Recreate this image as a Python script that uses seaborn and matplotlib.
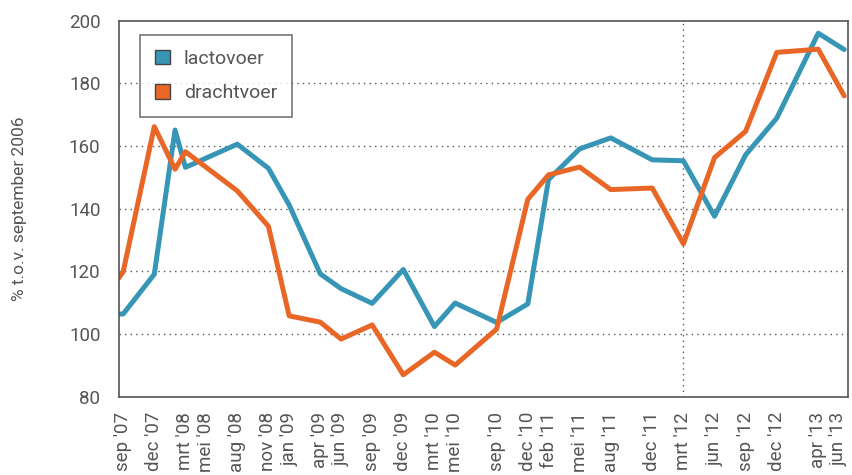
import numpy as np
import pandas as pd
import matplotlib
matplotlib.use("Agg")
import matplotlib.pyplot as plt
import seaborn as sns
from matplotlib.patches import Patch

# months since sep '07
maand = [-0.45, 0, 3, 5, 6, 11, 14, 16, 19, 21, 24, 27, 30, 32, 36, 39, 41, 44, 47, 51, 54, 57, 60, 63, 67, 69.5]
lactovoer = [106.4, 106.4, 119.1, 165.1, 153.2, 160.6, 152.9, 141.2, 119.2, 114.5, 109.8, 120.6, 102.4, 109.9,
             103.7, 109.6, 149.3, 159.1, 162.6, 155.6, 155.3, 137.6, 157.2, 168.9, 196.0, 190.8]
drachtvoer = [117.8, 119.9, 166.2, 152.6, 158.2, 145.7, 134.4, 105.8, 103.8, 98.4, 102.9, 87.0, 94.2, 90.1,
              101.6, 143.0, 150.8, 153.3, 146.1, 146.6, 128.8, 156.3, 164.7, 189.9, 190.9, 176.0]

tick_pos = [0, 3, 6, 8, 11, 14, 16, 19, 21, 24, 27, 30, 32, 36, 39, 41, 44, 47, 51, 54, 57, 60, 63, 67, 69]
tick_lab = ["sep '07", "dec '07", "mrt '08", "mei '08", "aug '08", "nov '08", "jan '09", "apr '09", "jun '09",
            "sep '09", "dec '09", "mrt '10", "mei '10", "sep '10", "dec '10", "feb '11", "mei '11", "aug '11",
            "dec '11", "mrt '12", "jun '12", "sep '12", "dec '12", "apr '13", "jun '13"]

df = pd.DataFrame({
    "maand": maand * 2,
    "index": lactovoer + drachtvoer,
    "voer": ["lactovoer"] * len(maand) + ["drachtvoer"] * len(maand),
})

kleuren = {"lactovoer": "#3796B6", "drachtvoer": "#E96726"}
grijs = "#555555"

sns.set_style("white")
plt.rcParams["font.family"] = ["Roboto", "DejaVu Sans"]

fig = plt.figure(figsize=(8.52, 4.75), dpi=100)
ax = fig.add_axes([0.1391, 0.1648, 0.8566, 0.7916])

sns.lineplot(data=df, x="maand", y="index", hue="voer", palette=kleuren, linewidth=3.6,
             legend=False, ax=ax, solid_capstyle="round")

ax.set_xlim(-0.45, 69.9)
ax.set_ylim(80, 200)
ax.set_yticks(range(80, 201, 20))
ax.set_xticks(tick_pos)
ax.set_xticklabels(tick_lab, rotation=90)

# dotted grid
for y in range(100, 200, 20):
    ax.axhline(y, color=grijs, lw=1, ls=(0, (1, 3)), zorder=0)
ax.axvline(54, color=grijs, lw=1, ls=(0, (1, 3)), zorder=0)

for s in ax.spines.values():
    s.set_color(grijs)
    s.set_linewidth(1.2)
ax.tick_params(axis="both", direction="out", length=6, width=1.2, color=grijs,
               labelcolor=grijs, labelsize=13.5)
ax.tick_params(axis="y", pad=7)
ax.tick_params(axis="x", pad=5)

ax.set_xlabel("")
ax.set_ylabel("% t.o.v. september 2006", color=grijs, fontsize=12.5, labelpad=30)

handles = [Patch(facecolor=kleuren[k], edgecolor="#444444", linewidth=1, label=k) for k in ["lactovoer", "drachtvoer"]]
leg = ax.legend(handles=handles, loc="upper left", bbox_to_anchor=(0.0295, 0.962), borderaxespad=0,
                frameon=True, fancybox=False, edgecolor=grijs, fontsize=14, handlelength=0.8,
                handleheight=0.8, handletextpad=0.7, labelspacing=0.85, borderpad=0.75)
leg.get_frame().set_linewidth(1.2)
for t in leg.get_texts():
    t.set_color(grijs)

plt.savefig("out.png", dpi=100)
